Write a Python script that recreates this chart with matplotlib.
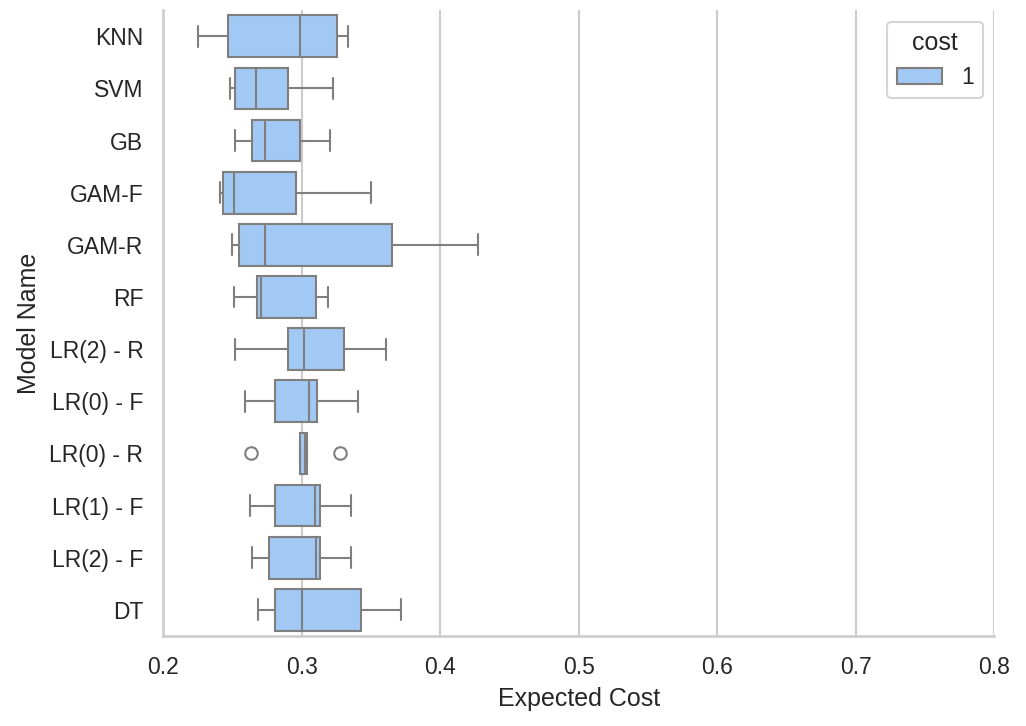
import matplotlib
matplotlib.use("Agg")
import matplotlib.pyplot as plt
import seaborn as sns
from matplotlib.patches import Patch

models = ["KNN","SVM","GB","GAM-F","GAM-R","RF","LR(2) - R","LR(0) - F","LR(0) - R","LR(1) - F","LR(2) - F","DT"]
whislo = [0.2253,0.2484,0.2520,0.2410,0.2498,0.2513,0.2520,0.2592,0.2989,0.2628,0.2643,0.2686]
q1     = [0.2469,0.2520,0.2643,0.2433,0.2549,0.2679,0.2903,0.2809,0.2989,0.2809,0.2765,0.2809]
med    = [0.2989,0.2671,0.2736,0.2513,0.2736,0.2708,0.3018,0.3054,0.3025,0.3097,0.3105,0.3004]
q3     = [0.3256,0.2903,0.2989,0.2960,0.3653,0.3105,0.3307,0.3112,0.3040,0.3134,0.3134,0.3430]
whishi = [0.3336,0.3227,0.3206,0.3502,0.4274,0.3191,0.3610,0.3408,0.3040,0.3357,0.3357,0.3718]
fliers = [[],[],[],[],[],[],[],[],[0.2635,0.3278],[],[],[]]

sns.set_theme(style="whitegrid")
plt.rcParams['font.family'] = ['Liberation Sans', 'DejaVu Sans']
fig, ax = plt.subplots(figsize=(6.84,4.84), dpi=150)
fig.subplots_adjust(left=0.159, right=0.969, top=0.986, bottom=0.124)
stats = [dict(label=m, whislo=a, q1=b, med=c, q3=d, whishi=e, fliers=f)
         for m,a,b,c,d,e,f in zip(models,whislo,q1,med,q3,whishi,fliers)]
gray = "#7f7f7f"
pos = list(range(len(models)))
ax.bxp(stats, positions=pos, vert=False, patch_artist=True, widths=0.8,
       boxprops=dict(facecolor="#a1c9f4", edgecolor=gray, linewidth=1),
       medianprops=dict(color=gray, linewidth=1),
       whiskerprops=dict(color=gray, linewidth=1),
       capprops=dict(color=gray, linewidth=1),
       flierprops=dict(marker="o", markerfacecolor="none", markeredgecolor=gray, markersize=6))
ax.set_ylim(len(models)-0.5, -0.5)
ax.set_yticks(pos); ax.set_yticklabels(models)
ax.set_xlim(0.2, 0.8)
ax.set_xlabel("Expected Cost"); ax.set_ylabel("Model Name")
ax.grid(axis="y", visible=False)
sns.despine(ax=ax)
ax.legend(handles=[Patch(facecolor="#a1c9f4", edgecolor=gray, label="1")], title="cost", loc="upper right")
fig.savefig("out.png", dpi=150)
